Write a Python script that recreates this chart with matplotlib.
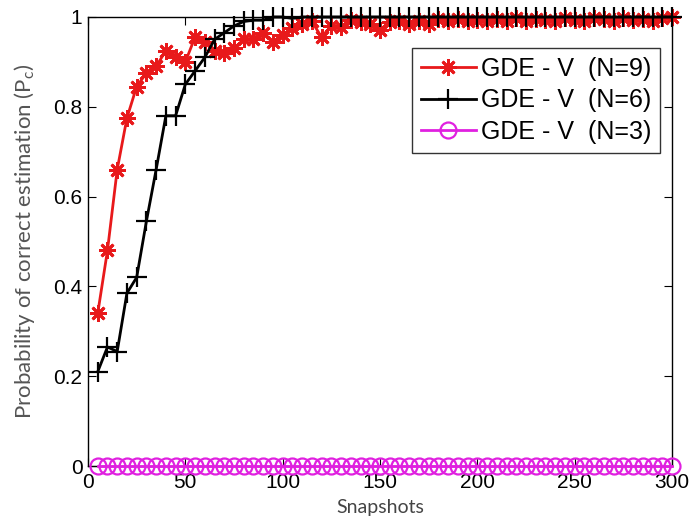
import matplotlib
matplotlib.use("Agg")
import matplotlib.pyplot as plt
import numpy as np

snapshots = list(range(5, 305, 5))

pc_n9 = [0.34, 0.48, 0.66, 0.775, 0.845, 0.875, 0.89, 0.925, 0.91, 0.90,
         0.955, 0.945, 0.925, 0.92, 0.93, 0.95, 0.95, 0.965, 0.945, 0.96,
         0.975, 0.985, 0.99, 0.955, 0.98, 0.978, 0.993, 0.988, 0.985, 0.972,
         0.988, 0.99, 0.985, 0.99, 0.985, 0.995, 0.99, 0.995, 0.99, 0.993,
         0.99, 0.995, 0.99, 0.997, 0.99, 0.995, 0.993, 0.99, 0.997, 0.993,
         0.99, 0.997, 0.995, 0.99, 0.997, 0.993, 0.995, 0.99, 0.997, 1.0]

pc_n6 = [0.21, 0.265, 0.255, 0.385, 0.42, 0.545, 0.66, 0.78, 0.78, 0.85,
         0.88, 0.91, 0.95, 0.965, 0.98, 0.99, 0.993, 0.993, 1.0, 1.0,
         0.997, 1.0, 1.0, 1.0, 1.0, 1.0, 1.0, 1.0, 1.0, 1.0,
         1.0, 1.0, 1.0, 1.0, 1.0, 1.0, 1.0, 1.0, 1.0, 1.0,
         1.0, 1.0, 1.0, 1.0, 1.0, 1.0, 1.0, 1.0, 1.0, 1.0,
         1.0, 1.0, 1.0, 1.0, 1.0, 1.0, 1.0, 1.0, 1.0, 1.0]

pc_n3 = [0.0] * 60

labels = ["GDE - V  (N=9)", "GDE - V  (N=6)", "GDE - V  (N=3)"]
xticks = [0, 50, 100, 150, 200, 250, 300]
yticks = [0, 0.2, 0.4, 0.6, 0.8, 1]
ytick_labels = ["0", "0.2", "0.4", "0.6", "0.8", "1"]

plt.rcParams['font.family'] = ['Liberation Sans', 'DejaVu Sans']

fig = plt.figure(figsize=(6.9, 5.26), dpi=100)
ax = fig.add_axes([88/690, 1 - 466/526, (672-88)/690, (466-17)/526])

ax.plot(snapshots, pc_n9, color='#e8191b', marker=(8, 2, 0), markersize=12, mew=2.0,
        lw=2.0, label=labels[0], clip_on=False, zorder=3)
ax.plot(snapshots, pc_n6, color='black', marker='+', markersize=15, mew=1.6, lw=2.0,
        label=labels[1], clip_on=False, zorder=4)
ax.plot(snapshots, pc_n3, color='#e020e0', marker='o', markersize=11.5, mfc='none',
        mew=1.6, lw=2.0, label=labels[2], clip_on=False, zorder=5)

ax.set_xlim(0, 300)
ax.set_ylim(0, 1)
ax.set_xticks(xticks)
ax.set_yticks(yticks)
ax.set_yticklabels(ytick_labels)
ax.tick_params(direction='in', length=6, labelsize=15, top=True, right=True,
               width=0.8)
ax.tick_params(axis='y', pad=4)
ax.tick_params(axis='x', pad=5)
for s in ax.spines.values():
    s.set_linewidth(1.0)

ax.set_xlabel("Snapshots", fontsize=14, color='#444444', family=['Lato', 'DejaVu Sans'],
              labelpad=5)
ax.set_ylabel("Probability of correct estimation (P$\\mathregular{_c}$)", fontsize=16,
              color='#555555', family=['Lato', 'DejaVu Sans'], labelpad=12)

leg = ax.legend(loc='upper right', bbox_to_anchor=(660/690, 1 - 48/526),
                bbox_transform=fig.transFigure, fontsize=18, frameon=True,
                fancybox=False, edgecolor='black', handlelength=2.2,
                borderpad=0.35, labelspacing=0.3, handletextpad=0.2,
                borderaxespad=0)
leg.get_frame().set_linewidth(1.0)

fig.savefig("out.png", dpi=100)
